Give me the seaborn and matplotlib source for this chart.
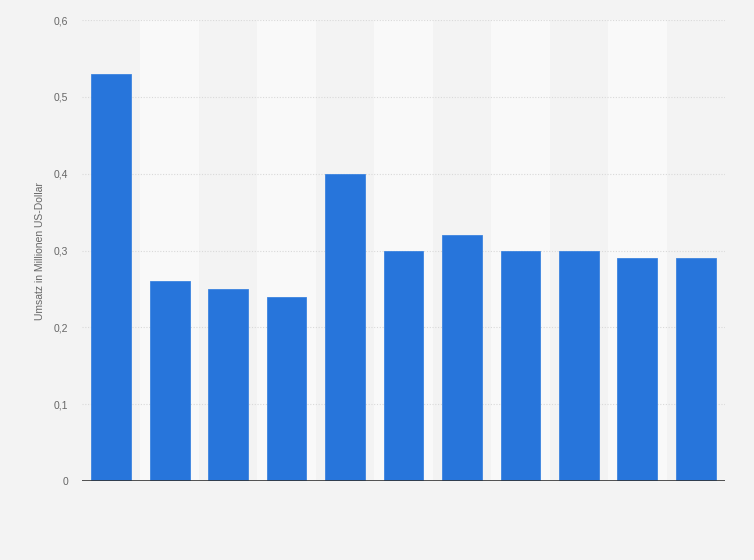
import matplotlib
matplotlib.use("Agg")
import matplotlib.pyplot as plt
import seaborn as sns
import pandas as pd

categories = [f"K{i}" for i in range(1, 12)]
values = [0.53, 0.26, 0.25, 0.24, 0.40, 0.30, 0.32, 0.30, 0.30, 0.29, 0.29]
yticks = [0, 0.1, 0.2, 0.3, 0.4, 0.5, 0.6]
ytick_labels = ["0", "0,1", "0,2", "0,3", "0,4", "0,5", "0,6"]
ylabel = "Umsatz in Millionen US-Dollar"

sns.set_theme(style="white")
plt.rcParams['font.family'] = ['Liberation Sans', 'DejaVu Sans']

df = pd.DataFrame({"cat": categories, "val": values})

fig = plt.figure(figsize=(7.54, 5.6), dpi=100, facecolor="#f3f3f3")
ax = fig.add_axes([0.1088, 0.141, 0.8527, 0.823])
ax.set_facecolor("#f3f3f3")

for i in range(len(categories)):
    if i % 2 == 1:
        ax.axvspan(i - 0.5, i + 0.5, color="#f9f9f9", zorder=0, lw=0)

sns.barplot(data=df, x="cat", y="val", color="#2775db", saturation=1,
            width=0.68, ax=ax, zorder=3, edgecolor="#3c84e0", linewidth=0.6)

ax.set_xlim(-0.5, len(categories) - 0.5)
ax.set_ylim(0, 0.6)
ax.set_yticks(yticks)
ax.set_yticklabels(ytick_labels, color="#666666", fontsize=7.5)
ax.set_xticks([])
ax.set_xlabel("")
ax.set_ylabel(ylabel, color="#666666", fontsize=7.5, labelpad=6)
ax.tick_params(axis="y", length=0, pad=10)

for y in yticks[1:]:
    ax.axhline(y, color="#d9d9d9", lw=0.8, ls=(0, (1, 1.5)), zorder=1)
ax.axhline(0, color="#333333", lw=1.2, zorder=4)

for s in ax.spines.values():
    s.set_visible(False)

fig.savefig("out.png", dpi=100, facecolor=fig.get_facecolor())
